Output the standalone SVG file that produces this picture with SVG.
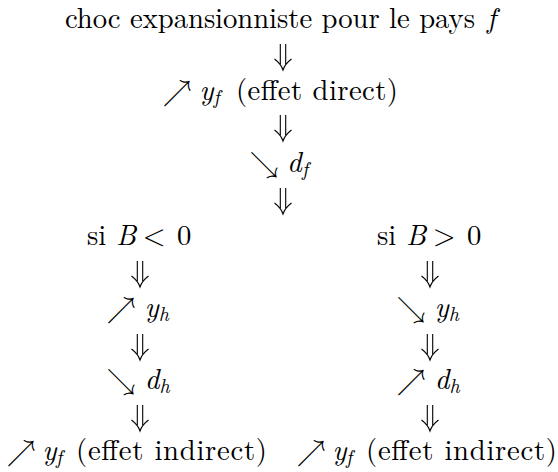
<svg xmlns="http://www.w3.org/2000/svg" xmlns:xlink="http://www.w3.org/1999/xlink" width="558" height="472" viewBox="0 0 558 472">
<style>
.t{font-family:"Latin Modern Roman","CMU Serif",FreeSerif,"DejaVu Serif",serif;font-size:28.7px;fill:#000}
.i{font-style:italic}
.s{font-size:20px;font-style:italic}
.a{font-family:"Latin Modern Math","STIX Two Math",FreeSerif,serif;font-size:28.7px;fill:#000}
</style>
<defs>
<g id="dn" fill="none" stroke="#000" stroke-width="1.1">
<path d="M-2.7,-13V7M2.7,-13V7"/>
<path d="M-8.5,2C-4.5,5 -1.5,8.5 0,13C1.5,8.5 4.5,5 8.5,2"/>
</g>
</defs>
<rect width="558" height="472" fill="#fff"/>
<g id="connectors">
<use xlink:href="#dn" x="283" y="57"/>
<use xlink:href="#dn" x="283" y="128"/>
<use xlink:href="#dn" x="283" y="201"/>
<use xlink:href="#dn" x="140" y="274"/>
<use xlink:href="#dn" x="430" y="274"/>
<use xlink:href="#dn" x="140" y="347"/>
<use xlink:href="#dn" x="430" y="347"/>
<use xlink:href="#dn" x="140" y="418"/>
<use xlink:href="#dn" x="430" y="418"/>
</g>
<g id="n1">
<text class="t" x="65" y="28" textLength="410">choc expansionniste pour le pays</text>
<text class="t i" x="487" y="28">f</text>
</g>
<g id="n2">
<text class="a" x="163" y="100">↗</text>
<text class="t i" x="199.5" y="100">y</text>
<text class="t s" x="213.5" y="104.3">f</text>
<text class="t" x="236" y="100" textLength="162">(effet direct)</text>
</g>
<g id="n3">
<text class="a" x="250" y="172">↘</text>
<text class="t i" x="287" y="172">d</text>
<text class="t s" x="302" y="176.3">f</text>
</g>
<g id="n4">
<text class="t" x="87" y="245">si</text>
<text class="t i" x="116" y="245">B</text>
<text class="a" x="143" y="245">&lt;</text>
<text class="t" x="177" y="245">0</text>
</g>
<g id="n5">
<text class="t" x="377" y="245">si</text>
<text class="t i" x="406" y="245">B</text>
<text class="a" x="433" y="245">&gt;</text>
<text class="t" x="467" y="245">0</text>
</g>
<g id="n6">
<text class="a" x="107" y="317">↗</text>
<text class="t i" x="144.7" y="317">y</text>
<text class="t s" x="158.7" y="321.3">h</text>
</g>
<g id="n7">
<text class="a" x="397" y="317">↘</text>
<text class="t i" x="434.7" y="317">y</text>
<text class="t s" x="448.7" y="321.3">h</text>
</g>
<g id="n8">
<text class="a" x="107" y="389">↘</text>
<text class="t i" x="144.7" y="389">d</text>
<text class="t s" x="159.6" y="393.3">h</text>
</g>
<g id="n9">
<text class="a" x="397" y="389">↗</text>
<text class="t i" x="434.7" y="389">d</text>
<text class="t s" x="449.6" y="393.3">h</text>
</g>
<g id="n10">
<text class="a" x="7" y="460">↗</text>
<text class="t i" x="42.5" y="460">y</text>
<text class="t s" x="56" y="464.3">f</text>
<text class="t" x="76" y="460" textLength="191">(effet indirect)</text>
</g>
<g id="n11">
<text class="a" x="297" y="460">↗</text>
<text class="t i" x="332.5" y="460">y</text>
<text class="t s" x="346" y="464.3">f</text>
<text class="t" x="366" y="460" textLength="191">(effet indirect)</text>
</g>
</svg>
